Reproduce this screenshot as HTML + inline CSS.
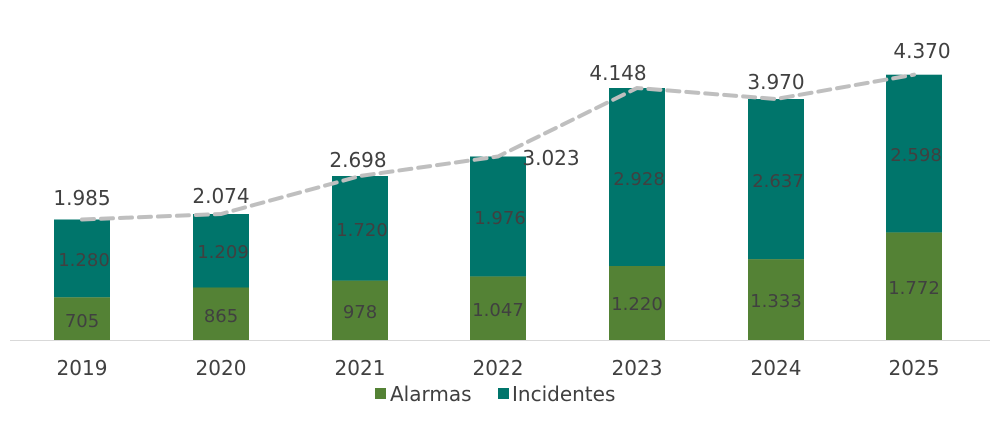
<!DOCTYPE html>
<html><head><style>
body{margin:0;background:#fff;}
svg text{font-family:"DejaVu Sans","Liberation Sans",sans-serif;fill:#404040;}
</style></head><body>
<svg width="999" height="420" xmlns="http://www.w3.org/2000/svg">
<rect width="999" height="420" fill="#fff"/>
<g id="bars">
<rect x="54" y="297.2" width="56" height="42.8" fill="#548235"/><rect x="54" y="219.5" width="56" height="77.7" fill="#00756b"/>
<rect x="193" y="287.5" width="56" height="52.5" fill="#548235"/><rect x="193" y="214" width="56" height="73.5" fill="#00756b"/>
<rect x="332" y="280.6" width="56" height="59.4" fill="#548235"/><rect x="332" y="176" width="56" height="104.6" fill="#00756b"/>
<rect x="470" y="276.4" width="56" height="63.6" fill="#548235"/><rect x="470" y="156.5" width="56" height="119.9" fill="#00756b"/>
<rect x="609" y="266" width="56" height="74" fill="#548235"/><rect x="609" y="88" width="56" height="178" fill="#00756b"/>
<rect x="748" y="259.1" width="56" height="80.9" fill="#548235"/><rect x="748" y="99" width="56" height="160.1" fill="#00756b"/>
<rect x="886" y="232.4" width="56" height="107.6" fill="#548235"/><rect x="886" y="74.7" width="56" height="157.7" fill="#00756b"/>
</g>
<line x1="10" y1="340.5" x2="990" y2="340.5" stroke="#d9d9d9" stroke-width="1"/>
<polyline points="82,219.5 221,214 360,176 498,156.5 637,88 776,99 914,74.7" fill="none" stroke="#bfbfbf" stroke-width="4" stroke-dasharray="12,7" stroke-linecap="round"/>
<g font-size="18" text-anchor="middle">
<text x="82" y="327">705</text><text x="84" y="266">1.280</text>
<text x="221" y="322">865</text><text x="223" y="258">1.209</text>
<text x="360" y="318">978</text><text x="362" y="236">1.720</text>
<text x="498" y="316">1.047</text><text x="500" y="224">1.976</text>
<text x="637" y="310">1.220</text><text x="639" y="185">2.928</text>
<text x="776" y="307">1.333</text><text x="778" y="187">2.637</text>
<text x="914" y="294">1.772</text><text x="916" y="161">2.598</text>
</g>
<g font-size="20" text-anchor="middle">
<text x="82" y="205">1.985</text>
<text x="221" y="203">2.074</text>
<text x="358" y="167">2.698</text>
<text x="551" y="165">3.023</text>
<text x="618" y="80">4.148</text>
<text x="776" y="89">3.970</text>
<text x="922" y="58">4.370</text>
</g>
<g font-size="20" text-anchor="middle">
<text x="82" y="375">2019</text><text x="221" y="375">2020</text><text x="360" y="375">2021</text><text x="498" y="375">2022</text><text x="637" y="375">2023</text><text x="776" y="375">2024</text><text x="914" y="375">2025</text>
</g>
<rect x="375" y="388" width="11" height="11" fill="#548235"/>
<text x="390" y="401" font-size="20">Alarmas</text>
<rect x="498" y="388" width="11" height="11" fill="#00756b"/>
<text x="512" y="401" font-size="20">Incidentes</text>
</svg>
</body></html>
